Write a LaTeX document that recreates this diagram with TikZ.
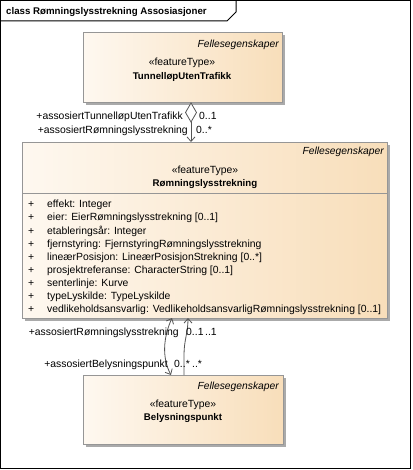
\documentclass[tikz,border=0pt]{standalone}
\usepackage{fontspec}
\setmainfont{Liberation Sans}
\usetikzlibrary{positioning,arrows.meta,shadows}
\definecolor{boxleft}{RGB}{254,248,240}
\definecolor{boxright}{RGB}{248,222,186}
\definecolor{boxline}{RGB}{150,150,150}
\definecolor{skygge}{RGB}{170,170,170}
\definecolor{linje}{RGB}{85,85,85}
\tikzset{
  klasse/.style={draw=boxline, left color=boxleft, right color=boxright,
    drop shadow={shadow xshift=3pt, shadow yshift=-3pt, fill=skygge, opacity=1},
    anchor=north west, inner sep=0pt},
  tekst/.style={inner sep=0pt, text height=7.4pt, text depth=0pt},
  felles/.style={tekst, font=\fontsize{10.3}{12}\selectfont\itshape, anchor=east},
  navn/.style={tekst, font=\fontsize{9.7}{12}\selectfont\bfseries},
  assoc/.style={draw=linje, line width=0.8pt}
}

\begin{document}
\begin{tikzpicture}[x=1pt,y=-1pt,font=\fontsize{10.4}{12}\selectfont,
    >={Straight Barb[length=4.5pt,width=8pt]}]
  \useasboundingbox (0,0) rectangle (412,470);
  % ramme og tittel
  \draw[line width=1pt] (0.5,0.5) rectangle (410.5,468.5);
  \draw[line width=1pt] (0.5,21) -- (227,21) -- (236,12) -- (236,0.5);
  \node[navn, anchor=west] (tittel) at (6,11) {class Rømningslysstrekning Assosiasjoner};

  % klasser
  \node[klasse, minimum width=199pt, minimum height=70pt] (tunnel) at (83,32) {};
  \node[klasse, minimum width=365pt, minimum height=176pt] (strekning) at (22,142) {};
  \node[klasse, minimum width=200pt, minimum height=69pt] (punkt) at (83,375) {};

  \node[felles] (tunnelF) at (279,44) {Fellesegenskaper};
  \node[tekst] (tunnelS) at (182,62) {«featureType»};
  \node[navn] (tunnelN) at (182,76) {TunnelløpUtenTrafikk};

  \node[felles] (strekningF) at (384,151) {Fellesegenskaper};
  \node[tekst] (strekningS) at (205,170) {«featureType»};
  \node[navn] (strekningN) at (205,183) {Rømningslysstrekning};
  \draw[boxline] (strekning.west |- 0,193) -- (strekning.east |- 0,193);
  \foreach \a [count=\i] in {effekt: Integer,
      eier: EierRømningslysstrekning [0..1],
      etableringsår: Integer,
      fjernstyring: FjernstyringRømningslysstrekning,
      lineærPosisjon: LineærPosisjonStrekning [0..*],
      prosjektreferanse: CharacterString [0..1],
      senterlinje: Kurve,
      typeLyskilde: TypeLyskilde,
      vedlikeholdsansvarlig: VedlikeholdsansvarligRømningslysstrekning [0..1]} {
    \node[tekst, anchor=west] (pluss\i) at (28,{191+13.1*\i}) {+};
    \node[tekst, anchor=west] (attr\i) at (47,{191+13.1*\i}) {\a};
  }

  \node[felles] (punktF) at (279,386) {Fellesegenskaper};
  \node[tekst] (punktS) at (183,404) {«featureType»};
  \node[navn] (punktN) at (183,417) {Belysningspunkt};

  % aggregering tunnel - strekning
  \coordinate (aggTopp) at (191,103);
  \coordinate (aggBunn) at (191,122);
  \draw[assoc, fill=white] (aggTopp) -- ++(5.5,9.5) -- (aggBunn) -- ++(-5.5,-9.5) -- cycle;
  \draw[assoc, ->] (aggBunn) -- (aggBunn |- strekning.north);
  \node[tekst, anchor=east] (rolleTunnel) at (183,116) {+assosiertTunnelløpUtenTrafikk};
  \node[tekst, anchor=west] (multTunnel) at (199,116) {0..1};
  \node[tekst, anchor=east] (rolleStrekningA) at (188,130) {+assosiertRømningslysstrekning};
  \node[tekst, anchor=west] (multStrekningA) at (196,130) {0..*};

  % assosiasjoner strekning - punkt
  \coordinate (a1Topp) at (172,318);
  \coordinate (a1Bunn) at (171,375);
  \coordinate (a2Topp) at (188,318);
  \coordinate (a2Bunn) at (184,375);
  \draw[assoc, <->] (a1Topp) .. controls (163,338) and (162,358) .. (a1Bunn);
  \draw[assoc, <-] (a2Topp) .. controls (188,333) and (184,340) .. (184,355) -- (a2Bunn);
  \node[tekst, anchor=east] (rolleStrekningB) at (179,332) {+assosiertRømningslysstrekning};
  \node[tekst, anchor=west] (multStrekningB) at (186,332) {0..1};
  \node[tekst, anchor=west] (multStrekningC) at (205,332) {..1};
  \node[tekst, anchor=east] (rollePunkt) at (168,364) {+assosiertBelysningspunkt};
  \node[tekst, anchor=west] (multPunktA) at (174,364) {0..*};
  \node[tekst, anchor=west] (multPunktB) at (192,364) {..*};
\end{tikzpicture}
\end{document}
